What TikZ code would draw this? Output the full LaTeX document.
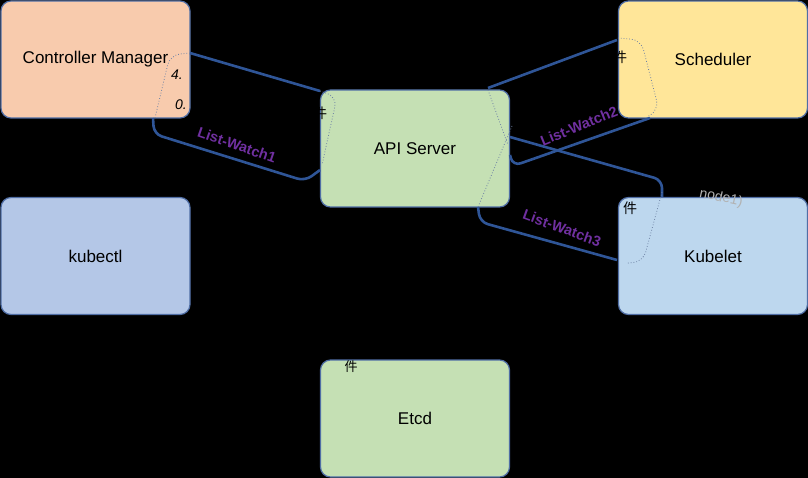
\documentclass[tikz,border=0pt]{standalone}
\usepackage{fontspec}
\setmainfont{Liberation Sans}
\newfontfamily\cjk{Noto Sans CJK SC}
\definecolor{boxline}{RGB}{80,110,165}
\definecolor{flowblue}{RGB}{47,85,151}
\definecolor{guidegray}{RGB}{110,130,165}
\definecolor{lwpurple}{RGB}{112,48,160}
\definecolor{cmfill}{RGB}{248,203,173}
\definecolor{schfill}{RGB}{255,230,153}
\definecolor{apifill}{RGB}{197,224,180}
\definecolor{kcfill}{RGB}{180,199,231}
\definecolor{klfill}{RGB}{189,215,238}
\begin{document}
\begin{tikzpicture}[x=1pt,y=-1pt,
  box/.style={draw=boxline, line width=1.2pt, rounded corners=10pt, minimum width=189pt, minimum height=117pt, inner sep=0pt, font=\fontsize{17}{20}\selectfont},
  flow/.style={draw=flowblue, line width=2.6pt, rounded corners=8pt},
  guide/.style={draw=guidegray, line width=0.8pt, dotted, rounded corners=10pt},
  lw/.style={text=lwpurple, inner sep=0pt, font=\bfseries\fontsize{14.5}{16}\selectfont},
  frag/.style={inner sep=0pt, text=black}]
\fill[black] (0,0) rectangle (808,478);
\useasboundingbox (0,0) rectangle (808,478);
% boxes
\node[box, fill=cmfill] (cm) at (95.5,59.5) {Controller Manager};
\node[box, fill=schfill] (sch) at (713,59.5) {Scheduler};
\node[box, fill=apifill] (api) at (415,148.5) {API Server};
\node[box, fill=kcfill] (kc) at (95.5,256) {kubectl};
\node[box, fill=klfill] (kl) at (713,256) {Kubelet};
\node[box, fill=apifill] (etcd) at (415,418.5) {Etcd};
% left group
\draw[flow] (190,53) -- (320,91);
\draw[flow] (153,118) -- (154,134) -- (305,181) -- (320,170);
\draw[guide] (190,53) -- (170,55) -- (155,118);
\draw[guide] (320,91) -- (337,97) -- (322,165);
% right group
\draw[flow] (488,88) -- (617,40);
\draw[guide] (488,90) -- (508,145);
\draw[guide] (512,126) -- (478,207);
\draw[guide] (618,38) -- (641,40) -- (659,110) -- (647,117);
\draw[flow] (510,137) -- (662,180) -- (662,197);
\draw[flow] (510,155) -- (513,166) -- (650,118);
\draw[flow] (478,207) -- (480,222) -- (617,260);
\draw[guide] (662,192) -- (643,262) -- (627,263);
% labels
\node[lw, rotate=-19] (lw1) at (237,145) {List-Watch1};
\node[lw, rotate=22] (lw2) at (579,126) {List-Watch2};
\node[lw, rotate=-20] (lw3) at (562,228) {List-Watch3};
\node[inner sep=0pt, text=gray!60, rotate=-12, font=\fontsize{14}{16}\selectfont] (nd) at (721,198) {node1)};
% text fragments
\node[frag, anchor=west, font=\itshape\fontsize{14}{16}\selectfont] (f4) at (171,75) {4.};
\node[frag, anchor=west, font=\itshape\fontsize{14}{16}\selectfont] (f0) at (175,105) {0.};
\node[frag, font=\cjk\fontsize{14}{16}\selectfont] (j1) at (630,208) {件};
\node[frag, font=\cjk\fontsize{13}{15}\selectfont] (j2) at (351,367) {件};
\node[frag, font=\cjk\fontsize{14}{16}\selectfont] (j3) at (320,113) {件};
\node[frag, font=\cjk\fontsize{14}{16}\selectfont] (j4) at (620,57) {件};
\end{tikzpicture}
\end{document}
